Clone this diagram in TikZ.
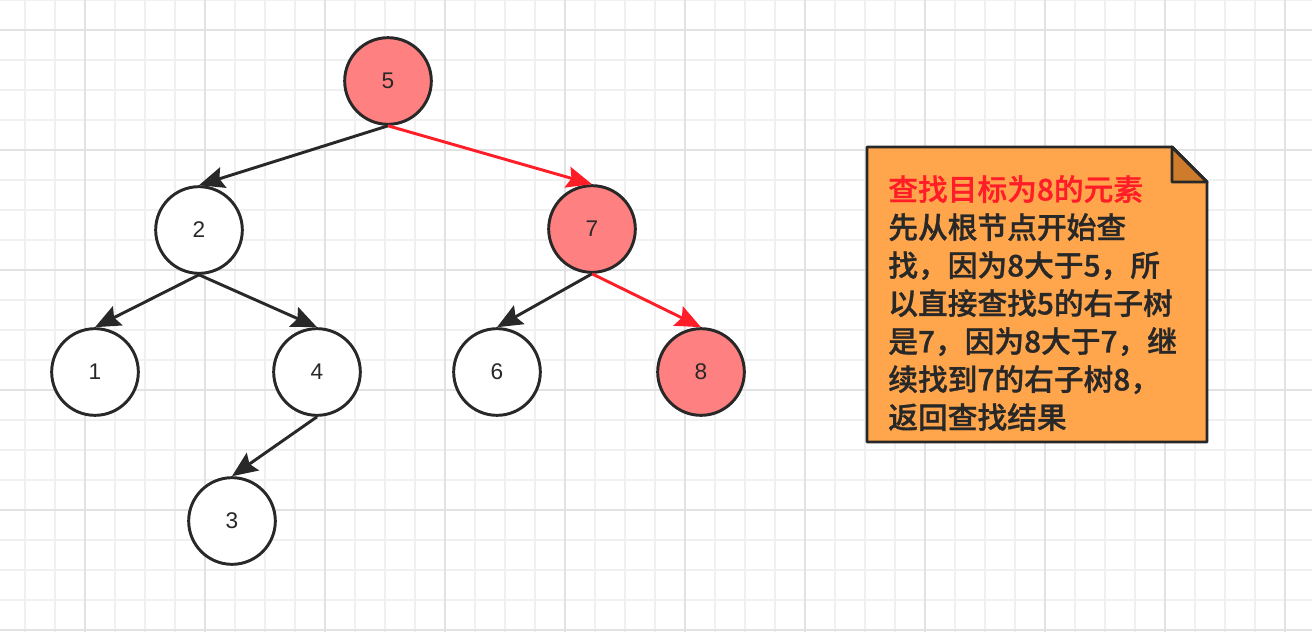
\documentclass[tikz,border=0pt]{standalone}
\usepackage{fontspec}
\setmainfont{Liberation Sans}
\newfontfamily\cjk{Noto Sans CJK SC Medium}[FakeBold=1]
\usetikzlibrary{arrows.meta}

\definecolor{nodered}{RGB}{255,128,128}
\definecolor{noteorange}{RGB}{255,166,77}
\definecolor{notefold}{RGB}{206,124,44}
\definecolor{linegray}{RGB}{40,40,40}
\definecolor{pathred}{RGB}{255,30,40}
\definecolor{gridthin}{RGB}{240,240,240}
\definecolor{gridthick}{RGB}{226,226,226}

\begin{document}
\begin{tikzpicture}[x=0.75pt, y=-0.75pt,
    treenode/.style={circle, draw=linegray, line width=2.2pt, fill=white,
        minimum size=65pt, inner sep=0pt, font=\fontsize{17pt}{20pt}\selectfont, text=linegray},
    hitnode/.style={treenode, fill=nodered},
    edge/.style={draw=linegray, line width=2.2pt, -{Stealth[length=19pt, width=16pt, inset=3pt]}},
    hitedge/.style={edge, draw=pathred, -{Stealth[length=19pt, width=16pt, inset=3pt, fill=pathred]}},
    notebox/.style={fill=noteorange, draw=linegray, line width=2.2pt, line join=round},
    notecorner/.style={fill=notefold, draw=linegray, line width=2.2pt, line join=round}]

    \useasboundingbox (0,0) rectangle (1312,632);

    % 网格
    \foreach \x in {25,55,...,1305}
        \draw[gridthin, line width=1.2pt] (\x,0) -- (\x,632);
    \foreach \y in {0,30,...,630}
        \draw[gridthin, line width=1.2pt] (0,\y) -- (1312,\y);
    \foreach \x in {85,205,...,1285}
        \draw[gridthick, line width=1.4pt] (\x,0) -- (\x,632);
    \foreach \y in {30,150,...,630}
        \draw[gridthick, line width=1.4pt] (0,\y) -- (1312,\y);

    % 二叉树
    \node[hitnode] (n5) at (388,81) {5};
    \node[treenode] (n2) at (199,230) {2};
    \node[hitnode] (n7) at (592,229) {7};
    \node[treenode] (n1) at (95,372) {1};
    \node[treenode] (n4) at (317,372) {4};
    \node[treenode] (n6) at (497,372) {6};
    \node[hitnode] (n8) at (701,372) {8};
    \node[treenode] (n3) at (232,521) {3};

    \draw[edge] (n5.south) -- (n2.north);
    \draw[hitedge] (n5.south) -- (n7.north);
    \draw[edge] (n2.south) -- (n1.north);
    \draw[edge] (n2.south) -- (n4.north);
    \draw[edge] (n7.south) -- (n6.north);
    \draw[hitedge] (n7.south) -- (n8.north);
    \draw[edge] (n4.south) -- (n3.north);

    % 说明
    \draw[notebox] (867,147) -- (1172,147) -- (1207,182) -- (1207,442) -- (867,442) -- cycle;
    \draw[notecorner] (1172,147) -- (1172,182) -- (1207,182) -- cycle;
    \node[anchor=north west, inner sep=0pt, align=left, text=linegray,
          font=\cjk\fontsize{22.3pt}{28.5pt}\selectfont] (notetext) at (888,175)
        {\textcolor{pathred}{查找目标为8的元素}\\
         先从根节点开始查\\
         找，因为8大于5，所\\
         以直接查找5的右子树\\
         是7，因为8大于7，继\\
         续找到7的右子树8，\\
         返回查找结果};
\end{tikzpicture}
\end{document}
